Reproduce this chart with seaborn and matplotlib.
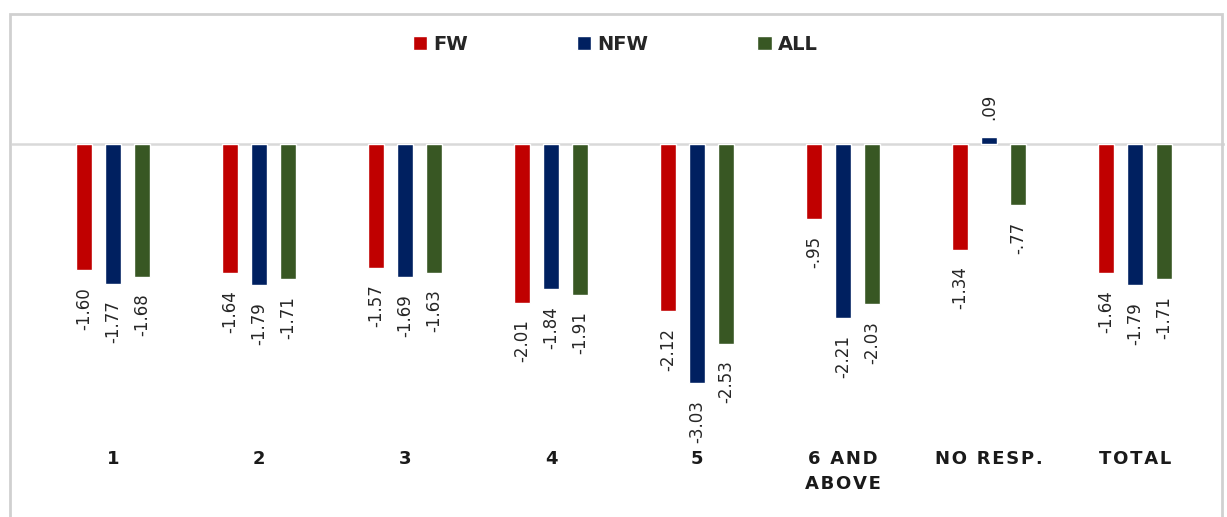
import re
import pandas as pd
import matplotlib.pyplot as plt
import seaborn as sns
from matplotlib.patches import Rectangle

categories = ['1', '2', '3', '4', '5', '6 AND\nABOVE', 'NO RESP.', 'TOTAL']
groups = ['FW', 'NFW', 'ALL']
fw = [-1.60, -1.64, -1.57, -2.01, -2.12, -0.95, -1.34, -1.64]
nfw = [-1.77, -1.79, -1.69, -1.84, -3.03, -2.21, 0.09, -1.79]
all_ = [-1.68, -1.71, -1.63, -1.91, -2.53, -2.03, -0.77, -1.71]
colors = ['#C00000', '#002060', '#385723']

df = pd.DataFrame({
    'cat': categories * 3,
    'grp': [g for g in groups for _ in categories],
    'val': fw + nfw + all_,
})

sns.set_style('white')
plt.rcParams['font.family'] = ['DejaVu Sans']

W, H = 1227, 517
fig = plt.figure(figsize=(W / 100, H / 100), dpi=100)
ax = fig.add_axes([12 / W, 1 - 440 / H, 1213 / W, 380 / H])

sns.barplot(data=df, x='cat', y='val', hue='grp', order=categories,
            hue_order=groups, palette=colors, width=0.6, gap=0.45,
            saturation=1, ax=ax, legend=True)

ax.set_xlim(-0.692, 7.616)
ax.set_ylim(-3.75, 1.065)
ax.axhline(0, color='#d9d9d9', lw=1.8, zorder=0)
sns.despine(ax=ax, left=True, bottom=True)
ax.set_yticks([])
ax.set_xlabel('')
ax.set_ylabel('')


def fmt(v):
    return re.sub(r'^(-?)0\.', r'\1.', f'{v:.2f}')


for cont in ax.containers:
    ax.bar_label(cont, labels=[fmt(b.get_height()) for b in cont],
                 rotation=90, padding=12, fontsize=12, color='#262626')

# letter-spaced category labels
labels = []
for lab in categories:
    lines = ['\u200a'.join(list(l)) for l in lab.split('\n')]
    labels.append('\n'.join(lines))
ax.set_xticks(range(len(categories)))
ax.set_xticklabels(labels, fontsize=13, fontweight='bold', color='#1a1a1a',
                   linespacing=1.5)
ax.tick_params(axis='x', length=0, pad=7)

handles, labs = ax.get_legend_handles_labels()
ax.get_legend().remove()
fig.legend(handles, labs, loc='center', bbox_to_anchor=(615 / W, 1 - 44 / H),
           ncol=3, frameon=False, handlelength=0.75, handleheight=0.75,
           handletextpad=0.3, columnspacing=5.6,
           prop={'weight': 'bold', 'size': 14})

fig.patches.append(Rectangle((10 / W, -0.05), 1212 / W, 1.05 - 14 / H,
                             transform=fig.transFigure, fill=False,
                             edgecolor='#d0d0d0', lw=2))

fig.savefig('out.png', dpi=100)
